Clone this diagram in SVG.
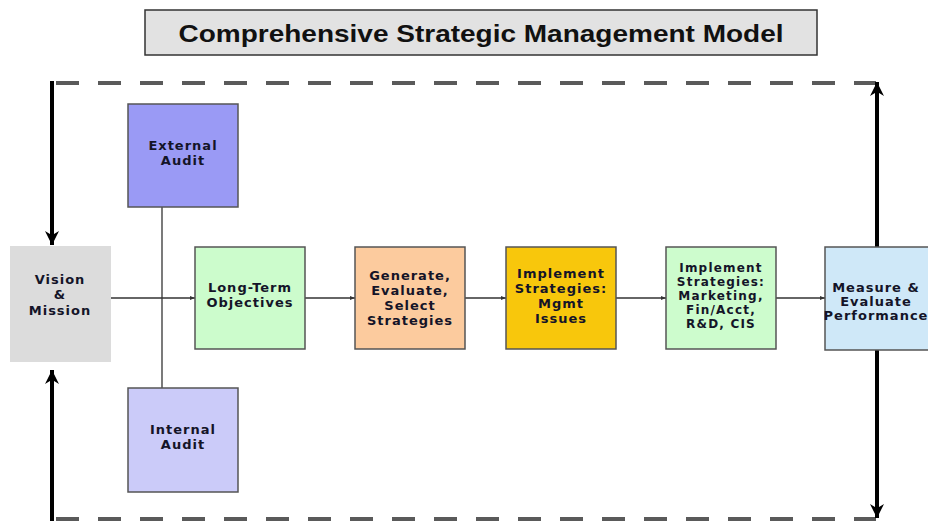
<svg xmlns="http://www.w3.org/2000/svg" width="928" height="521" viewBox="0 0 928 521">
<defs>
<style>
.box{stroke:#555;stroke-width:1.5}
.lbl{font-family:"DejaVu Sans",Verdana,sans-serif;font-weight:bold;font-size:13px;letter-spacing:1px;fill:#141428;text-anchor:middle}
.sm{font-size:12px;letter-spacing:1.2px}
.thin{stroke:#333;stroke-width:1.3;fill:none}
.thick{stroke:#000;stroke-width:4;fill:none}
.dash{stroke:#5a5a5a;stroke-width:4;stroke-dasharray:23 19;fill:none}
</style>
<marker id="sm" viewBox="0 0 10 10" refX="10" refY="5" markerWidth="5" markerHeight="5" orient="auto" markerUnits="userSpaceOnUse"><path d="M0,1 L10,5 L0,9 z" fill="#333"/></marker>
<marker id="big" viewBox="0 0 10 10" refX="10" refY="5" markerWidth="14" markerHeight="14" orient="auto" markerUnits="userSpaceOnUse"><path d="M0,0 L10,5 L0,10 L3,5 z" fill="#000"/></marker>
</defs>
<rect width="928" height="521" fill="#fff"/>
<g id="title">
<rect x="145" y="10" width="672" height="45" fill="#e2e2e2" stroke="#333" stroke-width="1.5"/>
<text x="481" y="42" font-family="Liberation Sans,Arial,sans-serif" font-weight="bold" font-size="24" text-anchor="middle" fill="#111" textLength="605" lengthAdjust="spacingAndGlyphs">Comprehensive Strategic Management Model</text>
</g>
<g id="connectors">
<path class="dash" d="M56,83 H876"/>
<path class="dash" d="M56,519 H876"/>
<path class="thick" d="M52,81 V245" marker-end="url(#big)"/>
<path class="thick" d="M52,521 V370" marker-end="url(#big)"/>
<path class="thick" d="M877,247 V82" marker-end="url(#big)"/>
<path class="thick" d="M877,350 V518" marker-end="url(#big)"/>
<path class="thin" d="M162,207 V388"/>
<path class="thin" d="M111,298 H195" marker-end="url(#sm)"/>
<path class="thin" d="M305,298 H355" marker-end="url(#sm)"/>
<path class="thin" d="M465,298 H506" marker-end="url(#sm)"/>
<path class="thin" d="M616,298 H666" marker-end="url(#sm)"/>
<path class="thin" d="M776,298 H825" marker-end="url(#sm)"/>
</g>
<g id="external-audit">
<rect class="box" x="128" y="104" width="110" height="103" fill="#9a9af5"/>
<text class="lbl"><tspan x="183" y="150">External</tspan><tspan x="183" y="165">Audit</tspan></text>
</g>
<g id="internal-audit">
<rect class="box" x="128" y="388" width="110" height="104" fill="#cbcbf9"/>
<text class="lbl"><tspan x="183" y="434">Internal</tspan><tspan x="183" y="449">Audit</tspan></text>
</g>
<g id="vision-mission">
<rect x="10" y="246" width="101" height="116" fill="#dcdcdc"/>
<text class="lbl"><tspan x="60" y="284">Vision</tspan><tspan x="60" y="299">&amp;</tspan><tspan x="60" y="315">Mission</tspan></text>
</g>
<g id="long-term-objectives">
<rect class="box" x="195" y="247" width="110" height="102" fill="#ccfccc"/>
<text class="lbl"><tspan x="250" y="292">Long-Term</tspan><tspan x="250" y="307">Objectives</tspan></text>
</g>
<g id="generate-strategies">
<rect class="box" x="355" y="247" width="110" height="102" fill="#fccb9e"/>
<text class="lbl"><tspan x="410" y="280">Generate,</tspan><tspan x="410" y="295">Evaluate,</tspan><tspan x="410" y="310">Select</tspan><tspan x="410" y="325">Strategies</tspan></text>
</g>
<g id="implement-mgmt">
<rect class="box" x="506" y="247" width="110" height="102" fill="#f8c70c"/>
<text class="lbl"><tspan x="561" y="278">Implement</tspan><tspan x="561" y="293">Strategies:</tspan><tspan x="561" y="308">Mgmt</tspan><tspan x="561" y="323">Issues</tspan></text>
</g>
<g id="implement-marketing">
<rect class="box" x="666" y="247" width="110" height="102" fill="#cdfccd"/>
<text class="lbl sm"><tspan x="721" y="272">Implement</tspan><tspan x="721" y="286">Strategies:</tspan><tspan x="721" y="300">Marketing,</tspan><tspan x="721" y="314">Fin/Acct,</tspan><tspan x="721" y="328">R&amp;D, CIS</tspan></text>
</g>
<g id="measure-evaluate">
<rect class="box" x="825" y="247" width="110" height="103" fill="#cfe8f8"/>
<text class="lbl"><tspan x="876" y="292">Measure &amp;</tspan><tspan x="876" y="306">Evaluate</tspan><tspan x="876" y="320">Performance</tspan></text>
</g>
</svg>
